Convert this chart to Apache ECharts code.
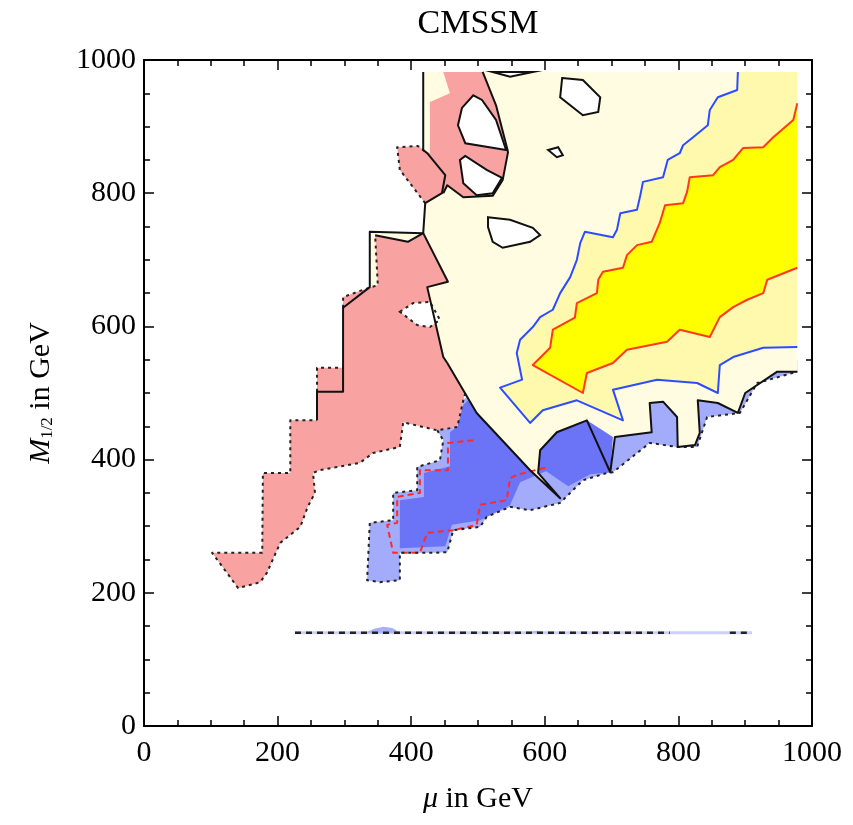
<!DOCTYPE html>
<html><head><meta charset="utf-8">
<script src="https://cdn.jsdelivr.net/npm/echarts@6/dist/echarts.min.js"></script>
<style>html,body{margin:0;padding:0;background:#fff}#c{width:853px;height:825px}</style>
</head><body><div id="c"></div>
<script>
// ---- data (mu in GeV, M1/2 in GeV) ----
const TITLE = 'CMSSM';
const X_TICKS = [0, 200, 400, 600, 800, 1000];
const Y_TICKS = [0, 200, 400, 600, 800, 1000];

const CREAM = [[418,982],[978,982],[978,532],[948,532],[900,500],[889,470],[859,485],[829,489],[832,440],[825,422],[799,419],[798,464],[777,487],[757,485],[760,441],[705,434],[698,381],[663,459],[618,441],[593,414],[590,380],[623,342],[578,384],[498,470],[454,545],[443,565],[259,459],[259,502],[298,502],[298,628],[338,659],[338,742],[418,740],[421,785],[446,800],[451,827],[424,860],[418,865]];
const PALE = [[889,982],[888,955],[859,944],[847,925],[844,902],[822,884],[807,872],[802,860],[784,850],[777,824],[747,817],[743,797],[738,775],[713,770],[708,745],[702,734],[660,742],[653,725],[648,700],[638,674],[623,650],[612,625],[593,614],[582,599],[563,580],[558,560],[566,520],[533,508],[578,455],[597,474],[648,489],[717,459],[702,505],[768,520],[828,515],[859,500],[862,542],[882,554],[927,568],[978,569],[978,982]];
const YELLOW = [[978,935],[972,910],[942,884],[927,869],[897,868],[882,850],[862,839],[852,827],[817,824],[813,802],[807,785],[780,782],[772,755],[760,727],[738,722],[723,707],[717,688],[687,682],[680,670],[678,650],[648,635],[645,613],[612,595],[608,568],[582,542],[657,500],[663,530],[702,545],[723,565],[783,577],[802,595],[847,584],[862,614],[882,629],[903,640],[927,650],[933,670],[978,688]];
const PINK_UPPER = [[448,982],[507,982],[527,932],[545,862],[537,820],[522,796],[478,794],[454,812],[448,800],[421,785],[383,835],[379,869],[410,871],[428,860],[428,937],[458,950]];
const PINK_LOWER = [[346,737],[395,727],[418,740],[455,667],[424,659],[448,554],[454,545],[481,500],[478,489],[469,449],[439,444],[388,456],[383,419],[343,410],[323,395],[263,384],[253,380],[256,350],[245,329],[234,299],[204,275],[184,230],[174,216],[141,207],[102,260],[177,260],[178,380],[219,380],[219,459],[259,459],[259,538],[298,538],[298,644],[331,656],[350,662]];
const LIGHT_BLUE = [[488,500],[533,520],[623,459],[683,474],[757,505],[832,520],[922,550],[978,550],[978,532],[918,515],[892,470],[843,464],[828,419],[798,419],[757,425],[702,381],[693,380],[657,369],[623,335],[578,324],[548,329],[513,314],[503,299],[463,294],[454,261],[433,260],[383,260],[383,219],[353,216],[334,219],[338,305],[373,309],[373,350],[409,354],[409,389],[443,399],[448,429],[439,444],[469,449],[478,489]];
const MID_BLUE = [[488,492],[525,497],[600,429],[626,414],[605,384],[563,366],[548,332],[503,309],[461,302],[451,270],[383,267],[383,297],[383,339],[419,344],[419,380],[458,390],[458,441],[469,449],[478,482]];
const MID_BLUE_OVER = [[618,441],[663,459],[702,434],[698,381],[668,378],[635,360],[600,384],[594,411]];
const HOLES_SOLID = [
  [[493,947],[506,940],[527,910],[542,865],[481,875],[470,902],[476,928]],
  [[481,856],[473,850],[478,815],[498,797],[522,800],[536,823],[513,835]],
  [[515,764],[548,760],[582,748],[593,737],[578,727],[537,718],[522,727],[515,749]],
  [[626,973],[657,970],[683,944],[680,922],[657,917],[623,944]],
  [[605,865],[620,869],[627,857],[618,854]],
  [[522,982],[548,975],[582,982]]
];
const HOLES_DOTTED = [
  [[383,622],[403,635],[428,637],[443,610],[428,599],[409,602]]
];
const BLACK_LINES = [
  [[418,982],[418,865],[424,860],[451,827],[446,800],[421,785],[418,740],[338,742],[338,659],[298,628],[298,502],[259,502],[259,459]],
  [[507,982],[527,932],[545,862]],
  [[545,862],[537,820],[522,796],[478,794],[454,812],[448,800]],
  [[346,737],[395,727],[418,740],[455,667],[424,659],[448,554],[454,545]],
  [[454,545],[498,470],[578,384],[623,342],[590,380],[593,414],[618,441],[663,459],[698,381],[705,434],[760,441],[757,485],[777,487],[798,464],[799,419],[825,422],[832,440],[829,489],[859,485],[889,470],[900,500],[948,532],[978,532]]
];
const DOTTED_LINES = [
  [[481,500],[478,489],[469,449],[439,444],[388,456],[383,419],[343,410],[323,395],[263,384],[253,380],[256,350],[245,329],[234,299],[204,275],[184,230],[174,216],[141,207],[102,260],[177,260],[178,380],[219,380],[219,459],[259,459]],
  [[259,502],[259,538],[298,538]],
  [[298,628],[298,644],[331,656],[350,662],[346,737]],
  [[421,785],[383,835],[379,869],[410,871],[424,860]],
  [[439,444],[448,429],[443,399],[409,389],[409,354],[373,350],[373,309],[338,305],[334,219],[353,216],[383,219],[383,260],[433,260],[454,261],[463,294],[503,299],[513,314],[548,329],[578,324],[623,335],[657,369],[693,380],[702,381],[757,425],[798,419],[828,419],[843,464],[892,470],[918,515],[978,532]]
];
const RED_DASHED = [[493,429],[455,425],[455,384],[413,384],[413,350],[379,344],[379,305],[364,302],[373,260],[413,260],[424,290],[463,294],[498,302],[503,332],[543,339],[548,372],[558,377],[605,389]];
const BAND_140_FAINT = [[226,140],[910,140]];
const BAND_140_BUMPS = [[[331,140],[345,146],[358,149],[372,147],[383,140]],[[573,140],[588,143],[602,140]]];
const BAND_140_DASHED = [[[226,140],[787,140]],[[877,140],[910,140]]];

// ---- rendering ----
const FONT = 'Liberation Serif';
const series = [];
function poly(pts, style) {
  series.push({type:'custom', coordinateSystem:'cartesian2d', silent:true, data:[0], clip:true,
    renderItem:(p, api)=>({type:'polygon', shape:{points:pts.map(q=>api.coord(q))}, style:style})});
}
function line(pts, style) {
  series.push({type:'custom', coordinateSystem:'cartesian2d', silent:true, data:[0], clip:true,
    renderItem:(p, api)=>({type:'polyline', shape:{points:pts.map(q=>api.coord(q))}, style:Object.assign({fill:null, lineJoin:'round'}, style)})});
}
const C_MID = '#6B73F7';
poly(LIGHT_BLUE, {fill:'#A3ABFB'});
poly(MID_BLUE, {fill:C_MID});
poly(CREAM, {fill:'#FFFCE1'});
poly(MID_BLUE_OVER, {fill:C_MID});
poly(PALE, {fill:'#FFF9AE'});
poly(YELLOW, {fill:'#FFFF00'});
poly(PINK_UPPER, {fill:'#F9A2A2'});
poly(PINK_LOWER, {fill:'#F9A2A2'});
HOLES_SOLID.forEach(h=>poly(h, {fill:'#FFFFFF', stroke:'#111', lineWidth:2}));
HOLES_DOTTED.forEach(h=>poly(h, {fill:'#FFFFFF', stroke:'#222', lineWidth:2, lineDash:[3,4]}));
line(PALE.slice(0, PALE.length-1), {stroke:'#2E4CFF', lineWidth:2});
line(YELLOW, {stroke:'#FF3A1A', lineWidth:2});
line(RED_DASHED, {stroke:'#FF2A2A', lineWidth:2, lineDash:[6,4]});
DOTTED_LINES.forEach(l=>line(l, {stroke:'#222', lineWidth:2, lineDash:[3,4]}));
BLACK_LINES.forEach(l=>line(l, {stroke:'#111', lineWidth:2}));
line(BAND_140_FAINT, {stroke:'#CDD0FB', lineWidth:3});
BAND_140_BUMPS.forEach(b=>poly(b, {fill:'#A9AFFB'}));
BAND_140_DASHED.forEach(l=>line(l, {stroke:'#222', lineWidth:2.5, lineDash:[6,5]}));

const step = X_TICKS[1]-X_TICKS[0];
const stepY = Y_TICKS[1]-Y_TICKS[0];
const lab = {fontFamily:FONT, fontSize:30, color:'#000', formatter:v=>String(v)};
const tick = {show:true, inside:true, length:10, lineStyle:{color:'#000', width:1.5}};
const minor = {show:true, splitNumber:4, length:6, lineStyle:{color:'#000', width:1.5}};
const axLine = {show:true, onZero:false, lineStyle:{color:'#000', width:2}};
function xa(pos, labels, name) {
  return {type:'value', position:pos, min:X_TICKS[0], max:X_TICKS[X_TICKS.length-1], interval:step,
    axisLine:axLine, axisTick:tick, minorTick:minor, splitLine:{show:false},
    axisLabel:Object.assign({show:labels, margin:12}, lab),
    name:name, nameLocation:'middle', nameGap:58,
    nameTextStyle:{fontFamily:FONT, fontSize:30, color:'#000', rich:{i:{fontFamily:FONT, fontSize:30, fontStyle:'italic', color:'#000'}}}};
}
function ya(pos, labels, name) {
  return {type:'value', position:pos, min:Y_TICKS[0], max:Y_TICKS[Y_TICKS.length-1], interval:stepY,
    axisLine:axLine, axisTick:tick, minorTick:minor, splitLine:{show:false},
    axisLabel:Object.assign({show:labels, margin:8}, lab),
    name:name, nameLocation:'middle', nameGap:88, nameRotate:90,
    nameTextStyle:{fontFamily:FONT, fontSize:30, color:'#000', rich:{
      i:{fontFamily:FONT, fontSize:30, fontStyle:'italic', color:'#000'},
      s:{fontFamily:FONT, fontSize:17, color:'#000', verticalAlign:'bottom'},
      n:{fontFamily:FONT, fontSize:30, color:'#000'}}}};
}
const chart = echarts.init(document.getElementById('c'), null, {renderer:'canvas'});
chart.setOption({
  animation:false,
  backgroundColor:'#fff',
  grid:{left:144, right:41, top:60, bottom:99, containLabel:false},
  graphic:[{type:'text', x:478, y:24, style:{text:TITLE, fontFamily:FONT, fontSize:34, fill:'#000', textAlign:'center', textVerticalAlign:'middle'}}],
  xAxis:[xa('bottom', true, '{i|μ} in GeV'), xa('top', false, '')],
  yAxis:[ya('left', true, '{i|M}{s|1/2}{n| in GeV}'), ya('right', false, '')],
  series:series
});
</script></body></html>
